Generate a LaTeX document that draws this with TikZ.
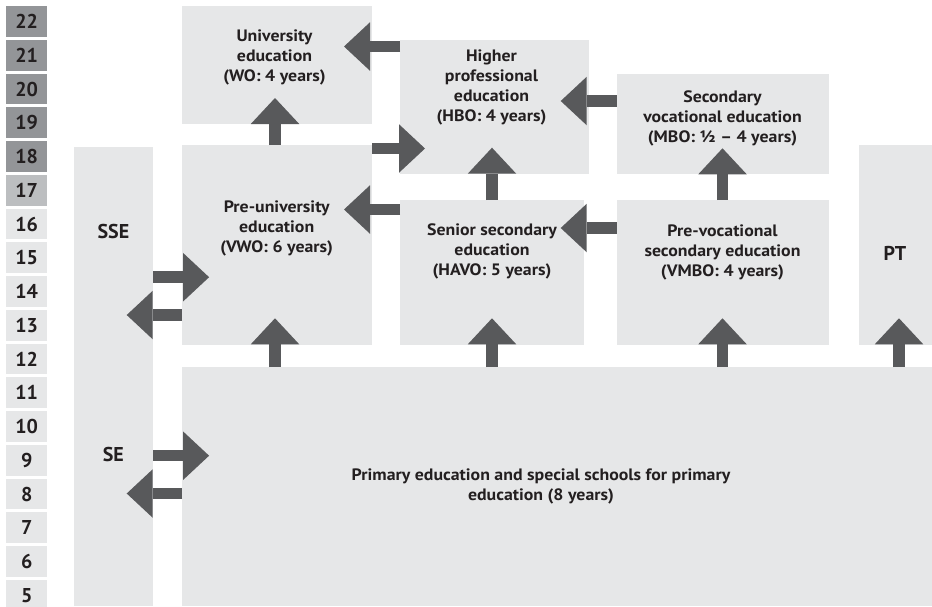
\documentclass[tikz,border=0pt]{standalone}
\usepackage{fontspec}
\setmainfont{PT Sans}
\newfontfamily\boxfont{PT Sans}[FakeStretch=1.08]
\usetikzlibrary{arrows.meta}
\definecolor{boxgray}{HTML}{E6E7E8}
\definecolor{agegray}{HTML}{939598}
\definecolor{midgray}{HTML}{BCBEC0}
\definecolor{bargray}{HTML}{58595B}
\definecolor{ink}{HTML}{231F20}
\begin{document}
\begin{tikzpicture}[x=1pt,y=-1pt,
    field/.style={fill=boxgray,draw=none,inner sep=0pt,anchor=north west},
    label/.style={text=ink,align=center,inner sep=0pt,font=\boxfont\bfseries\fontsize{16.5}{20}\selectfont},
    biglabel/.style={text=ink,inner sep=0pt,font=\bfseries\fontsize{20}{24}\selectfont},
    bar/.style={draw=bargray,line width=11.5pt,-{Triangle[width=48.5pt,length=26pt,line width=0pt]}}]
       \useasboundingbox (0,0) rectangle (932,606);
       % ages
       \foreach \age/\col [count=\i from 0] in {22/agegray,21/agegray,20/agegray,19/agegray,18/agegray,
          17/midgray,16/boxgray,15/boxgray,14/boxgray,13/boxgray,12/boxgray,11/boxgray,
          10/boxgray,9/boxgray,8/boxgray,7/boxgray,6/boxgray,5/boxgray}
          \node at (6,6+33.75*\i) [field,fill=\col,minimum width=41pt,minimum height=30.7pt] (age\age) {};
       \foreach \age in {22,21,20,19,18,17,16,15,14,13,12,11,10,9,8,7,6,5}
          \node at (age\age.center) [biglabel] {\age};
       % boxes
       \node at (74,147) [field,minimum width=79pt,minimum height=459pt] (S) {};
       \node at (182,6) [field,minimum width=190pt,minimum height=118pt] (WO) {};
       \node at (400,40) [field,minimum width=189pt,minimum height=133.3pt] (HBO) {};
       \node at (616.7,74) [field,minimum width=212.3pt,minimum height=99.3pt] (MBO) {};
       \node at (182,145) [field,minimum width=190pt,minimum height=199.7pt] (VWO) {};
       \node at (400,200) [field,minimum width=183.3pt,minimum height=144.5pt] (HAVO) {};
       \node at (616.7,200) [field,minimum width=212.3pt,minimum height=144.5pt] (VMBO) {};
       \node at (858.3,145) [field,minimum width=73.7pt,minimum height=199.5pt] (PT) {};
       \node at (182,367) [field,minimum width=750pt,minimum height=239pt] (PO) {};
       % texts
       \node at (274.5,57.8) [label] (tWO) {University\\education\\(WO: 4 years)};
       \node at (491.5,87.3) [label] (tHBO) {Higher\\professional\\education\\(HBO: 4 years)};
       \node at (722.5,118) [label] (tMBO) {Secondary\\vocational education\\(MBO: ½ – 4 years)};
       \node at (276.7,228.3) [label] (tVWO) {Pre-university\\education\\(VWO: 6 years)};
       \node at (492,251.5) [label] (tHAVO) {Senior secondary\\education\\(HAVO: 5 years)};
       \node at (722.5,252) [label] (tVMBO) {Pre-vocational\\secondary education\\(VMBO: 4 years)};
       \node at (541,486.3) [label] (tPO) {Primary education and special schools for primary\\education (8 years)};
       \node at (895,253) [biglabel] (tPT) {PT};
       \node at (113.4,231.7) [biglabel] (tSSE) {SSE};
       \node at (113.4,454) [biglabel] (tSE) {SE};
       % arrows
       \draw [bar] (HBO.west |- 0,46.5) -- ++(-56,0);
       \draw [bar] (VWO.north -| 275,0) -- ++(0,-47);
       \draw [bar] (VWO.east |- 0,148.5) -- ++(52.6,0);
       \draw [bar] (MBO.west |- 0,101) -- ++(-56,0);
       \draw [bar] (HAVO.north -| 492,0) -- ++(0,-52.3);
       \draw [bar] (VMBO.north -| 722.5,0) -- ++(0,-51.7);
       \draw [bar] (HAVO.west |- 0,209.5) -- ++(-56,0);
       \draw [bar] (VMBO.west |- 0,228) -- ++(-56,0);
       \draw [bar] (S.east |- 0,277.2) -- ++(55.7,0);
       \draw [bar] (VWO.west |- 0,315) -- ++(-55.3,0);
       \draw [bar] (S.east |- 0,455.7) -- ++(55.7,0);
       \draw [bar] (PO.west |- 0,493.5) -- ++(-55.3,0);
       \draw [bar] (PO.north -| 275,0) -- ++(0,-48.7);
       \draw [bar] (PO.north -| 492,0) -- ++(0,-48.7);
       \draw [bar] (PO.north -| 722.5,0) -- ++(0,-48.7);
       \draw [bar] (PO.north -| 899,0) -- ++(0,-48.7);
      \end{tikzpicture}
\end{document}
